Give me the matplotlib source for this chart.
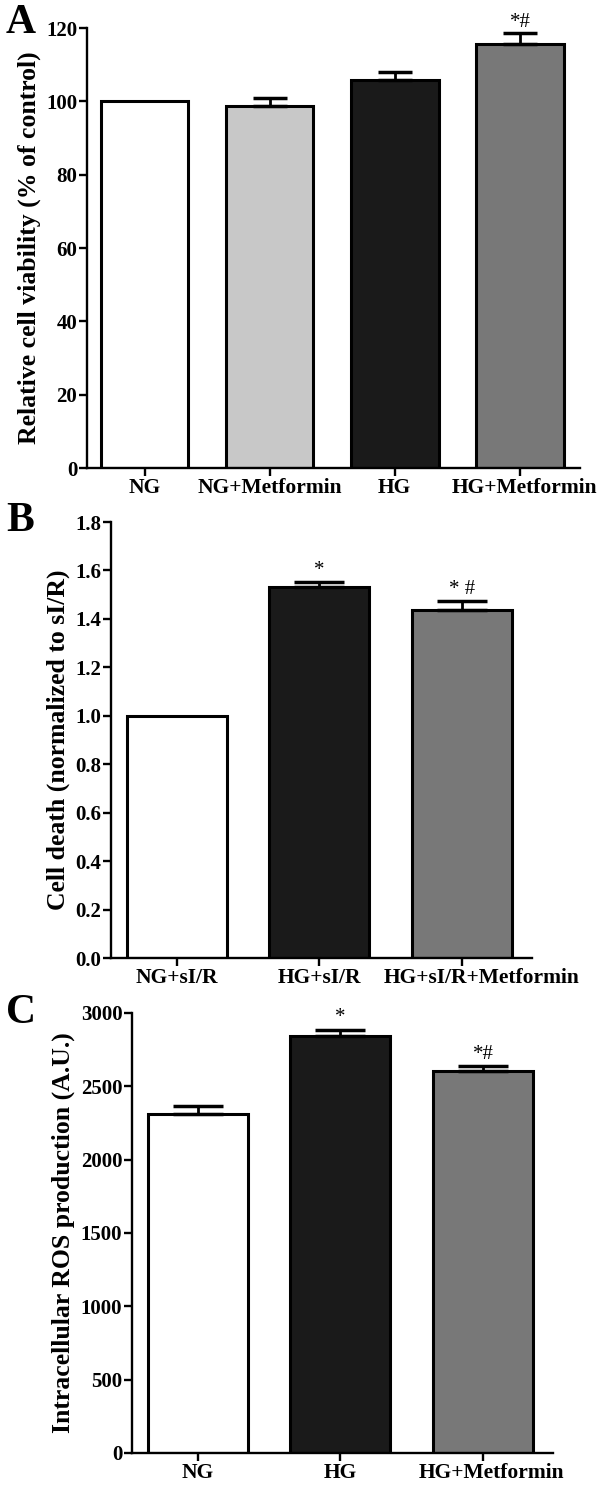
import matplotlib.pyplot as plt
import matplotlib.transforms as mtrans
import numpy as np

plt.rcParams['font.family'] = ['Liberation Serif', 'DejaVu Serif']
plt.rcParams['font.weight'] = 'bold'

# panel A
a_labels = ["NG", "NG+Metformin", "HG", "HG+Metformin"]
a_values = [100, 98.6, 105.8, 115.7]
a_errors = [0, 2.2, 2.3, 3.0]
a_colors = ["#ffffff", "#c8c8c8", "#1a1a1a", "#787878"]
a_marks = ["", "", "", "*#"]

# panel B
b_labels = ["NG+sI/R", "HG+sI/R", "HG+sI/R+Metformin"]
b_values = [1.0, 1.532, 1.436]
b_errors = [0, 0.022, 0.039]
b_colors = ["#ffffff", "#1a1a1a", "#787878"]
b_marks = ["", "*", "* #"]

# panel C
c_labels = ["NG", "HG", "HG+Metformin"]
c_values = [2308, 2842, 2604]
c_errors = [60, 45, 34]
c_colors = ["#ffffff", "#1a1a1a", "#787878"]
c_marks = ["", "*", "*#"]

W, H = 602, 1489


def make_axes(fig, left, right, top, bottom):
    return fig.add_axes([left / W, 1 - bottom / H,
                         (right - left) / W, (bottom - top) / H])


def plot_bars(ax, labels, values, errors, colors, marks,
              ylim, yticks, ylabel, xlim, mark_off, capsize):
    x = np.arange(len(values))
    ax.bar(x, values, width = 0.70, color = colors,
           edgecolor = "black", linewidth = 2.2, zorder = 2)
    for xi, v, e in zip(x, values, errors):
        if e > 0:
            ax.errorbar(xi, v, yerr = [[0], [e]], fmt = "none",
                        ecolor = "black", elinewidth = 2.0,
                        capsize = capsize, capthick = 2.5, zorder = 3)
    for xi, v, e, m in zip(x, values, errors, marks):
        if m:
            ax.text(xi, v + e + mark_off, m, ha = "center", va = "bottom",
                    fontsize = 15, fontweight = "normal")
    ax.set_xlim(xlim)
    ax.set_ylim(ylim)
    ax.set_yticks(yticks)
    ax.set_xticks(x)
    ax.set_xticklabels(labels, fontsize = 15.5, fontweight = "bold")
    ax.set_ylabel(ylabel, fontsize = 18.5, fontweight = "bold", labelpad = 4)
    for lab in ax.get_yticklabels():
        lab.set_fontsize(15)
        lab.set_fontweight("bold")
    for side in ["top", "right"]:
        ax.spines[side].set_visible(False)
    for side in ["left", "bottom"]:
        ax.spines[side].set_linewidth(1.7)
    ax.tick_params(axis = "both", direction = "out", width = 1.7,
                   length = 6, pad = 1)
    return ax


def shift_label(fig, ax, idx, dx_px):
    lab = ax.get_xticklabels()[idx]
    offset = mtrans.ScaledTranslation(dx_px / fig.dpi, 0, fig.dpi_scale_trans)
    lab.set_transform(lab.get_transform() + offset)


fig = plt.figure(figsize = (W / 100, H / 100), dpi = 100)

ax_a = make_axes(fig, 87, 580, 28, 468)
plot_bars(ax_a, a_labels, a_values, a_errors, a_colors, a_marks,
          (0, 120), [0, 20, 40, 60, 80, 100, 120],
          "Relative cell viability (% of control)", (-0.46, 3.48), 0.2, 12)
shift_label(fig, ax_a, 3, 5)

ax_b = make_axes(fig, 111, 532, 522, 958)
plot_bars(ax_b, b_labels, b_values, b_errors, b_colors, b_marks,
          (0, 1.8), [0.0, 0.2, 0.4, 0.6, 0.8, 1.0, 1.2, 1.4, 1.6, 1.8],
          "Cell death (normalized to sI/R)", (-0.46, 2.49), 0.008, 18)
ax_b.yaxis.set_major_formatter(plt.FormatStrFormatter("%.1f"))
shift_label(fig, ax_b, 2, 20)

ax_c = make_axes(fig, 132, 553, 1013, 1453)
plot_bars(ax_c, c_labels, c_values, c_errors, c_colors, c_marks,
          (0, 3000), [0, 500, 1000, 1500, 2000, 2500, 3000],
          "Intracellular ROS production (A.U.)", (-0.46, 2.49), 15, 18)
shift_label(fig, ax_c, 2, 8)

for letter, (px, py) in zip("ABC", [(6, 4), (6, 502), (6, 994)]):
    fig.text(px / W, 1 - py / H, letter, fontsize = 30, fontweight = "bold",
             va = "top", ha = "left")

fig.savefig("out.png", dpi = 100)
